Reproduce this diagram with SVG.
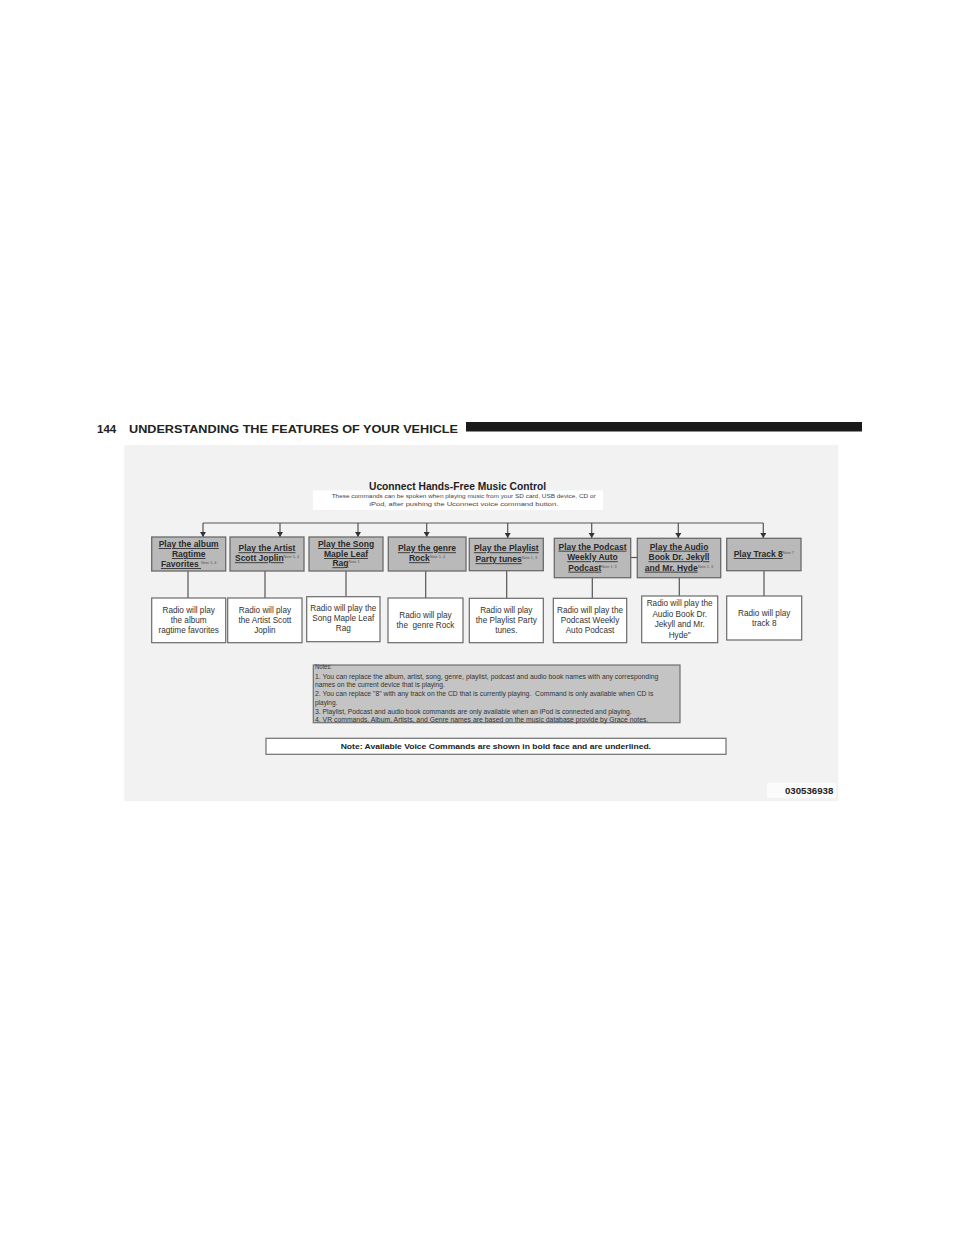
<svg xmlns="http://www.w3.org/2000/svg" width="960" height="1242" viewBox="0 0 960 1242">
<defs>
<style>
.hdr{font-family:"Liberation Sans",Arial,sans-serif;font-weight:bold;font-size:11.5px;fill:#222}
.title{font-family:"Liberation Sans",Arial,sans-serif;font-weight:bold;font-size:11.5px;fill:#1e1e1e}
.sub{font-family:"Liberation Sans",Arial,sans-serif;font-size:6px;fill:#444}
.cmd{fill:#b9b9b9;stroke:#6a6a6a;stroke-width:1.3}
.res{fill:#ffffff;stroke:#6a6a6a;stroke-width:1.2}
.ct{font-family:"Liberation Sans",Arial,sans-serif;font-weight:bold;font-size:8.5px;fill:#2a2a2a;text-anchor:middle}
.u{text-decoration:underline}
.sup{font-size:3.8px;font-weight:normal;fill:#555}
.rt{font-family:"Liberation Sans",Arial,sans-serif;font-size:8.2px;fill:#333;text-anchor:middle}
.ln{stroke:#555;stroke-width:1.2;fill:none}
.nt{font-family:"Liberation Sans",Arial,sans-serif;font-size:6.3px;fill:#333}
</style>
<marker id="arr" markerWidth="6" markerHeight="6" refX="5" refY="3" orient="auto" markerUnits="userSpaceOnUse">
<path d="M0,0 L5,3 L0,6 Z" fill="#333"/>
</marker>
</defs>

<rect x="0" y="0" width="960" height="1242" fill="#ffffff"/>

<!-- page header -->
<g id="page-header">
<text class="hdr" x="97" y="432.5">144</text>
<text class="hdr" x="129" y="432.5" textLength="329" lengthAdjust="spacingAndGlyphs">UNDERSTANDING THE FEATURES OF YOUR VEHICLE</text>
<rect x="466" y="422" width="396" height="9.5" fill="#1a1a1a"/>
</g>

<!-- panel -->
<rect id="panel" x="124.3" y="445" width="714" height="356" fill="#f2f2f2"/>

<g id="title">
<text class="title" x="369" y="489.5" textLength="177" lengthAdjust="spacingAndGlyphs">Uconnect Hands-Free Music Control</text>
<rect x="313" y="490.5" width="290" height="19.5" fill="#ffffff"/>
<text class="sub" x="331.7" y="498" textLength="264" lengthAdjust="spacingAndGlyphs">These commands can be spoken when playing music from your SD card, USB device, CD or</text>
<text class="sub" x="369.3" y="505.5" textLength="189" lengthAdjust="spacingAndGlyphs">iPod, after pushing the Uconnect voice command button.</text>
</g>

<!-- connectors -->
<g id="connectors">
<line class="ln" x1="203" y1="523" x2="763.3" y2="523"/>
<line class="ln" x1="203" y1="523" x2="203" y2="537" marker-end="url(#arr)"/>
<line class="ln" x1="280" y1="523" x2="280" y2="537" marker-end="url(#arr)"/>
<line class="ln" x1="358" y1="523" x2="358" y2="537" marker-end="url(#arr)"/>
<line class="ln" x1="426.7" y1="523" x2="426.7" y2="537" marker-end="url(#arr)"/>
<line class="ln" x1="507.7" y1="523" x2="507.7" y2="538" marker-end="url(#arr)"/>
<line class="ln" x1="591.7" y1="523" x2="591.7" y2="538" marker-end="url(#arr)"/>
<line class="ln" x1="678.3" y1="523" x2="678.3" y2="538" marker-end="url(#arr)"/>
<line class="ln" x1="763.3" y1="523" x2="763.3" y2="538" marker-end="url(#arr)"/>
<line class="ln" x1="630.7" y1="557.5" x2="637.3" y2="557.5"/>
<line class="ln" x1="188" y1="571" x2="188" y2="598"/>
<line class="ln" x1="265" y1="571" x2="265" y2="598"/>
<line class="ln" x1="346" y1="571" x2="346" y2="596.7"/>
<line class="ln" x1="425.7" y1="571" x2="425.7" y2="598"/>
<line class="ln" x1="506.7" y1="570.7" x2="506.7" y2="598.3"/>
<line class="ln" x1="592.3" y1="577.7" x2="592.3" y2="598.3"/>
<line class="ln" x1="679.3" y1="577.7" x2="679.3" y2="596"/>
<line class="ln" x1="764" y1="570.7" x2="764" y2="596"/>
</g>

<!-- command nodes -->
<g id="cmd-album">
<rect class="cmd" x="151.7" y="537" width="74" height="34"/>
<text class="ct" x="188.7" y="547"><tspan class="u">Play the album</tspan></text>
<text class="ct" x="188.7" y="557"><tspan class="u">Ragtime</tspan></text>
<text class="ct" x="188.7" y="567"><tspan class="u">Favorites </tspan><tspan class="sup" dy="-3">Note 1, 4</tspan></text>
</g>
<g id="cmd-artist">
<rect class="cmd" x="230" y="537" width="74" height="34"/>
<text class="ct" x="267" y="551.3"><tspan class="u">Play the Artist</tspan></text>
<text class="ct" x="267" y="561.3"><tspan class="u">Scott Joplin</tspan><tspan class="sup" dy="-3">Note 1, 4</tspan></text>
</g>
<g id="cmd-song">
<rect class="cmd" x="309" y="537" width="74" height="34"/>
<text class="ct" x="346" y="547"><tspan class="u">Play the Song</tspan></text>
<text class="ct" x="346" y="557"><tspan class="u">Maple Leaf</tspan></text>
<text class="ct" x="346" y="566.3"><tspan class="u">Rag</tspan><tspan class="sup" dy="-3">Note 1</tspan></text>
</g>
<g id="cmd-genre">
<rect class="cmd" x="388.3" y="537" width="77.7" height="34"/>
<text class="ct" x="427" y="551.3"><tspan class="u">Play the genre</tspan></text>
<text class="ct" x="427" y="561.3"><tspan class="u">Rock</tspan><tspan class="sup" dy="-3">Note 1, 4</tspan></text>
</g>
<g id="cmd-playlist">
<rect class="cmd" x="469.3" y="538.3" width="74" height="32.4"/>
<text class="ct" x="506.3" y="551.3"><tspan class="u">Play the Playlist</tspan></text>
<text class="ct" x="506.3" y="562.3"><tspan class="u">Party tunes</tspan><tspan class="sup" dy="-3">Note 1, 3</tspan></text>
</g>
<g id="cmd-podcast">
<rect class="cmd" x="554.3" y="538.3" width="76.4" height="39.4"/>
<text class="ct" x="592.5" y="549.7"><tspan class="u">Play the Podcast</tspan></text>
<text class="ct" x="592.5" y="560.3"><tspan class="u">Weekly Auto</tspan></text>
<text class="ct" x="592.5" y="570.7"><tspan class="u">Podcast</tspan><tspan class="sup" dy="-3">Note 1, 3</tspan></text>
</g>
<g id="cmd-audiobook">
<rect class="cmd" x="637.3" y="538.3" width="83.4" height="39.4"/>
<text class="ct" x="679" y="549.7"><tspan class="u">Play the Audio</tspan></text>
<text class="ct" x="679" y="560.3"><tspan class="u">Book Dr. Jekyll</tspan></text>
<text class="ct" x="679" y="570.7"><tspan class="u">and Mr. Hyde</tspan><tspan class="sup" dy="-3">Note 1, 3</tspan></text>
</g>
<g id="cmd-track">
<rect class="cmd" x="726.7" y="538.3" width="74.3" height="32.4"/>
<text class="ct" x="763.8" y="557"><tspan class="u">Play Track 8</tspan><tspan class="sup" dy="-3">Note 7</tspan></text>
</g>

<!-- result nodes -->
<g id="res-album">
<rect class="res" x="151.7" y="598" width="74" height="44.7"/>
<text class="rt" x="188.7" y="613">Radio will play</text>
<text class="rt" x="188.7" y="623">the album</text>
<text class="rt" x="188.7" y="633">ragtime favorites</text>
</g>
<g id="res-artist">
<rect class="res" x="227.7" y="598" width="74.3" height="44.7"/>
<text class="rt" x="264.9" y="613">Radio will play</text>
<text class="rt" x="264.9" y="623">the Artist Scott</text>
<text class="rt" x="264.9" y="633">Joplin</text>
</g>
<g id="res-song">
<rect class="res" x="306.7" y="596.7" width="73.3" height="45"/>
<text class="rt" x="343.3" y="611.3">Radio will play the</text>
<text class="rt" x="343.3" y="621.3">Song Maple Leaf</text>
<text class="rt" x="343.3" y="631.3">Rag</text>
</g>
<g id="res-genre">
<rect class="res" x="388" y="598" width="75" height="44.7"/>
<text class="rt" x="425.5" y="618">Radio will play</text>
<text class="rt" x="425.5" y="628" xml:space="preserve">the  genre Rock</text>
</g>
<g id="res-playlist">
<rect class="res" x="469.3" y="598.3" width="74" height="44.4"/>
<text class="rt" x="506.3" y="613">Radio will play</text>
<text class="rt" x="506.3" y="623">the Playlist Party</text>
<text class="rt" x="506.3" y="633">tunes.</text>
</g>
<g id="res-podcast">
<rect class="res" x="553.3" y="598.3" width="73.4" height="44.4"/>
<text class="rt" x="590" y="613">Radio will play the</text>
<text class="rt" x="590" y="623">Podcast Weekly</text>
<text class="rt" x="590" y="633">Auto Podcast</text>
</g>
<g id="res-audiobook">
<rect class="res" x="641.7" y="596" width="76" height="46.7"/>
<text class="rt" x="679.7" y="606">Radio will play the</text>
<text class="rt" x="679.7" y="616.5">Audio Book Dr.</text>
<text class="rt" x="679.7" y="627">Jekyll and Mr.</text>
<text class="rt" x="679.7" y="637.5">Hyde"</text>
</g>
<g id="res-track">
<rect class="res" x="726.7" y="596" width="75" height="44"/>
<text class="rt" x="764.2" y="615.7">Radio will play</text>
<text class="rt" x="764.2" y="626.3">track 8</text>
</g>

<!-- notes -->
<g id="notes">
<rect x="313.3" y="665" width="366.7" height="57.7" fill="#c4c4c4" stroke="#6f6f6f" stroke-width="1.2"/>
<text class="nt" x="315" y="668.5" textLength="16.7" lengthAdjust="spacingAndGlyphs">Notes:</text>
<text class="nt" x="315" y="678.5" textLength="343.3" lengthAdjust="spacingAndGlyphs">1. You can replace the album, artist, song, genre, playlist, podcast and audio book names with any corresponding</text>
<text class="nt" x="315" y="687" textLength="130" lengthAdjust="spacingAndGlyphs">names on the current device that is playing.</text>
<text class="nt" x="315" y="696" textLength="338.3" lengthAdjust="spacingAndGlyphs" xml:space="preserve">2. You can replace "8" with any track on the CD that is currently playing.  Command is only available when CD is</text>
<text class="nt" x="315" y="704.5" textLength="22.3" lengthAdjust="spacingAndGlyphs">playing.</text>
<text class="nt" x="315" y="713.5" textLength="316.7" lengthAdjust="spacingAndGlyphs">3. Playlist, Podcast and audio book commands are only available when an iPod is connected and playing.</text>
<text class="nt" x="315" y="722" textLength="333.3" lengthAdjust="spacingAndGlyphs">4. VR commands. Album, Artists, and Genre names are based on the music database provide by Grace notes.</text>
</g>

<g id="bottom-note">
<rect x="266" y="738.3" width="460" height="16" fill="#ffffff" stroke="#6f6f6f" stroke-width="1.2"/>
<text x="340.7" y="748.8" font-family="Liberation Sans, Arial, sans-serif" font-weight="bold" font-size="7.6" fill="#222" textLength="310.3" lengthAdjust="spacingAndGlyphs">Note: Available Voice Commands are shown in bold face and are underlined.</text>
</g>

<g id="code">
<rect x="767" y="783" width="69" height="15" fill="#fbfbfb"/>
<text x="785" y="794" font-family="Liberation Sans, Arial, sans-serif" font-weight="bold" font-size="8.3" fill="#222" textLength="48.3" lengthAdjust="spacingAndGlyphs">030536938</text>
</g>
</svg>
